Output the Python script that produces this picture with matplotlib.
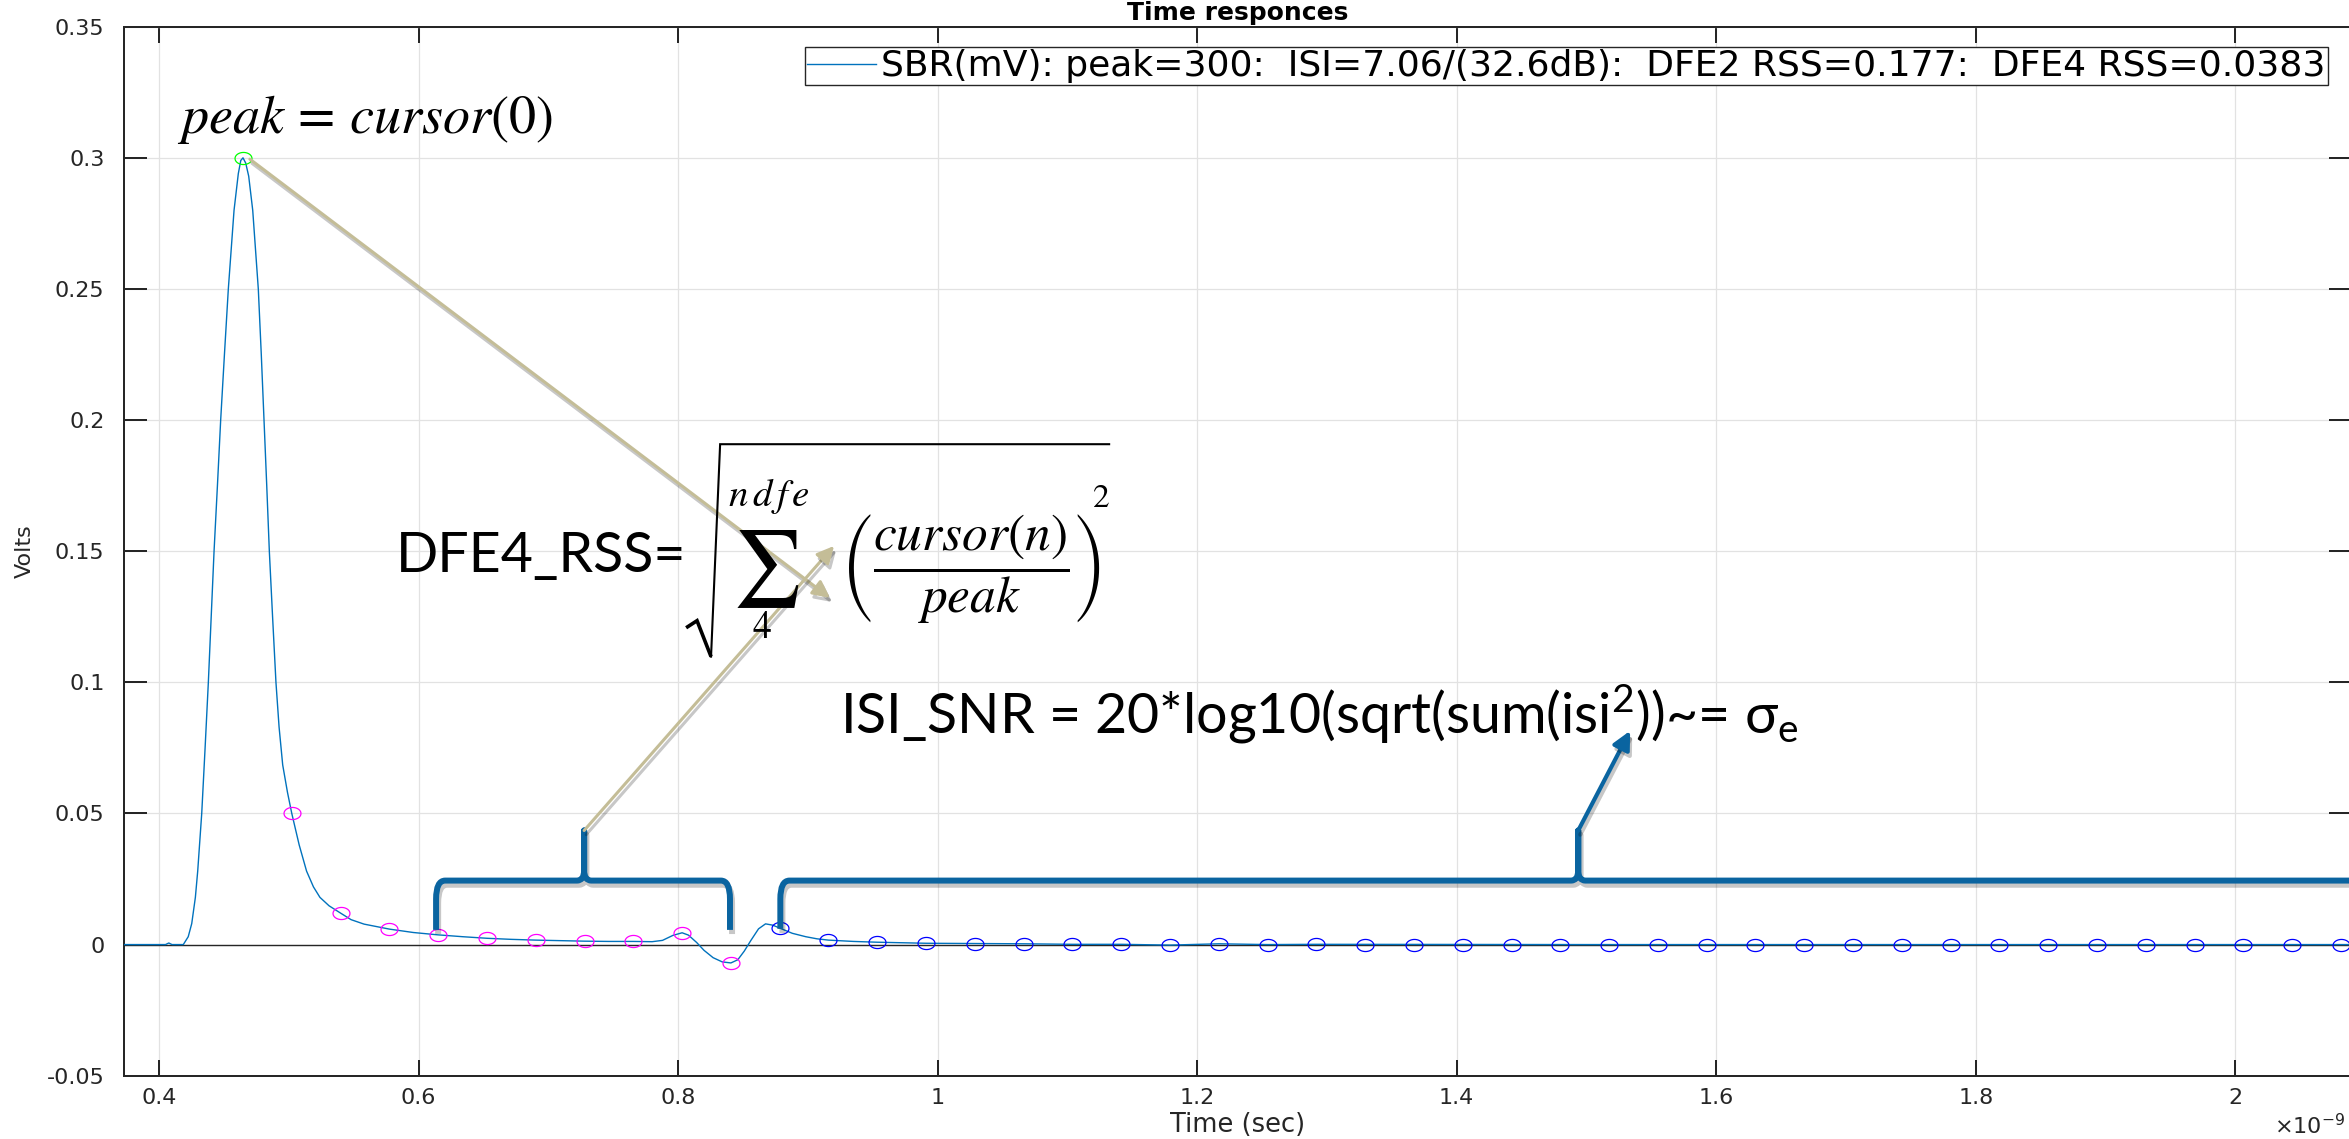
import matplotlib
matplotlib.use('Agg')
import matplotlib.pyplot as plt
import numpy as np
from matplotlib.path import Path
from matplotlib.patches import PathPatch, FancyArrowPatch
import matplotlib.patheffects as pe
from matplotlib.ticker import FormatStrFormatter

plt.rcParams['font.family'] = ['DejaVu Sans']

# single bit response, time in ns (axis shows x10^-9 s), volts
t_sbr = [0.373, 0.400, 0.405, 0.4075, 0.410, 0.4187, 0.4225, 0.4252, 0.4280, 0.4298,
         0.4329, 0.4355, 0.4380, 0.4402, 0.4424, 0.4450, 0.4475, 0.4504, 0.4534, 0.4578,
         0.4611, 0.4630, 0.4647, 0.4668, 0.4691, 0.4722, 0.4765, 0.4788, 0.4809, 0.4830,
         0.4850, 0.4875, 0.4901, 0.4925, 0.4953, 0.4990, 0.5023, 0.5080, 0.5137, 0.5190,
         0.5240, 0.5310, 0.5399, 0.5480, 0.5580, 0.5775, 0.5960, 0.6151, 0.6340, 0.6527,
         0.6710, 0.6903, 0.7090, 0.7279, 0.7465, 0.7655, 0.7800, 0.7880, 0.7960, 0.8031,
         0.8080, 0.8143, 0.8200, 0.8270, 0.8340, 0.8407, 0.8460, 0.8510, 0.8560, 0.8620,
         0.8674, 0.8730, 0.8783, 0.8880, 0.8984, 0.9070, 0.9159, 0.9350, 0.9535, 0.9911,
         1.0287, 1.0663, 1.1039, 1.1415, 1.1791, 1.2167, 1.2543, 1.2919, 1.5000, 1.8000,
         2.0815, 2.0900]
v_sbr = [0.0, 0.0, 0.0, 0.0006, 0.0, 0.0, 0.003, 0.008, 0.018, 0.028,
         0.050, 0.075, 0.100, 0.125, 0.150, 0.175, 0.200, 0.225, 0.250, 0.280,
         0.294, 0.299, 0.300, 0.298, 0.293, 0.280, 0.250, 0.225, 0.200, 0.175,
         0.150, 0.125, 0.100, 0.083, 0.0685, 0.058, 0.050, 0.038, 0.028, 0.022,
         0.018, 0.0148, 0.0120, 0.0095, 0.0078, 0.0059, 0.0046, 0.0037, 0.0030, 0.0024,
         0.0020, 0.0017, 0.0015, 0.0013, 0.0012, 0.0012, 0.0011, 0.0016, 0.0035, 0.0045,
         0.0036, 0.0008, -0.0022, -0.0050, -0.0066, -0.0070, -0.0058, -0.0025, 0.0015, 0.0060,
         0.0079, 0.0074, 0.0063, 0.0043, 0.0030, 0.0022, 0.0017, 0.0012, 0.0009, 0.0005,
         0.0004, 0.0003, 0.0001, 0.0001, -0.0002, 0.0003, 0.0, 0.0001, 0.0, 0.0,
         0.0, 0.0]

# cursor samples (one per UI)
t_cur = [0.4647, 0.5023, 0.5399, 0.5775, 0.6151, 0.6527, 0.6903, 0.7279, 0.7655, 0.8031,
         0.8407, 0.8783, 0.9159, 0.9535, 0.9911, 1.0287, 1.0663, 1.1039, 1.1415, 1.1791,
         1.2167, 1.2543, 1.2919, 1.3295, 1.3671, 1.4047, 1.4423, 1.4799, 1.5175, 1.5551,
         1.5927, 1.6303, 1.6679, 1.7055, 1.7431, 1.7807, 1.8183, 1.8559, 1.8935, 1.9311,
         1.9687, 2.0063, 2.0439, 2.0815]
v_cur = [0.300, 0.050, 0.0120, 0.0059, 0.0037, 0.0024, 0.0017, 0.0013, 0.0012, 0.0045,
         -0.0070, 0.0063, 0.0017, 0.0009, 0.0005, 0.0004, 0.0003, 0.0001, 0.0001, -0.0002,
         0.0003, 0.0, 0.0001, 0.0, 0.0, 0.0, 0.0, 0.0, 0.0, 0.0,
         0.0, 0.0, 0.0, 0.0, 0.0, 0.0, 0.0, 0.0, 0.0, 0.0,
         0.0, 0.0, 0.0, 0.0]

legend_label = 'SBR(mV): peak=300:  ISI=7.06/(32.6dB):  DFE2 RSS=0.177:  DFE4 RSS=0.0383'
x_ticks = [0.4, 0.6, 0.8, 1.0, 1.2, 1.4, 1.6, 1.8, 2.0]
y_ticks = [-0.05, 0, 0.05, 0.1, 0.15, 0.2, 0.25, 0.3, 0.35]

W, H = 2349, 1139
fig = plt.figure(figsize=(W / 100, H / 100), dpi=100)
ax = fig.add_axes([124 / W, 1 - 1075.7 / H, (2352 - 124) / W, (1075.7 - 26.7) / H])

dark = '#262626'
ax.set_xlim(0.373, 2.090)
ax.set_ylim(-0.05, 0.35)
ax.set_xticks(x_ticks)
ax.set_yticks(y_ticks)
ax.xaxis.set_major_formatter(FormatStrFormatter('%g'))
ax.yaxis.set_major_formatter(FormatStrFormatter('%g'))
ax.grid(True, color='#e2e2e2', lw=0.9)
ax.set_axisbelow(True)
ax.tick_params(direction='in', top=True, right=True, width=1.44, colors=dark, labelsize=16)
ax.tick_params(axis='x', length=11.5, pad=9)
ax.tick_params(axis='y', length=16.5, pad=14)
for s in ax.spines.values():
    s.set_linewidth(1.44)
    s.set_color(dark)

ax.axhline(0, color=dark, lw=1.0, zorder=2)
line, = ax.plot(t_sbr, v_sbr, color='#0072BD', lw=1.0, label=legend_label, zorder=3)

th = np.linspace(0, 2 * np.pi, 64)
ell = Path(np.column_stack([1.4 * np.cos(th), np.sin(th)]))
mk = dict(ls='none', marker=ell, ms=12.2, mfc='none', mew=0.9, zorder=4)
ax.plot(t_cur[:1], v_cur[:1], mec='#00ff00', **mk)
ax.plot(t_cur[1:11], v_cur[1:11], mec='#ff00ff', **mk)
ax.plot(t_cur[11:], v_cur[11:], mec='#0000ff', **mk)

ax.set_title('Time responces', fontsize=18, fontweight='bold', color='k', pad=5)
ax.set_ylabel('Volts', fontsize=16, color=dark)
ax.yaxis.set_label_coords(-0.040, 0.5)
ax.set_xlabel('Time (sec)', fontsize=18.5, color=dark)
ax.xaxis.set_label_coords(0.5, -0.035)
fig.text(2274 / W, 1 - 1138 / H, r'$\times$10$^{-9}$', fontsize=16, color=dark, va='bottom')

leg = ax.legend(handles=[line], loc='upper left', bbox_to_anchor=(805 / W, 1 - 47 / H),
                bbox_transform=fig.transFigure, fontsize=26, fancybox=False, framealpha=1,
                edgecolor=dark, borderpad=0.06, handlelength=1.9, handletextpad=0.15,
                borderaxespad=0)
leg.get_frame().set_linewidth(1.0)
leg.set_zorder(10)

# annotations
brace_c = '#0a64a0'
tan_c = '#c4bd97'
shadow = [pe.SimpleLineShadow(offset=(1.5, -3), shadow_color='k', alpha=0.22), pe.Normal()]


def brace(x0, xt, x1, yf, yb, yt):
    dx, dy, tx, ty = 0.007, 0.007, 0.0055, 0.004
    verts = [(x0, yf), (x0, yb - dy), (x0, yb), (x0 + dx, yb), (xt - tx, yb), (xt, yb),
             (xt, yb + ty), (xt, yt), (xt, yb + ty), (xt, yb), (xt + tx, yb), (x1 - dx, yb),
             (x1, yb), (x1, yb - dy), (x1, yf)]
    codes = [Path.MOVETO, Path.LINETO, Path.CURVE3, Path.CURVE3, Path.LINETO, Path.CURVE3,
             Path.CURVE3, Path.LINETO, Path.LINETO, Path.CURVE3, Path.CURVE3, Path.LINETO,
             Path.CURVE3, Path.CURVE3, Path.LINETO]
    p = PathPatch(Path(verts, codes), fill=False, ec=brace_c, lw=4.3, capstyle='butt',
                  joinstyle='round', zorder=5)
    p.set_path_effects(shadow)
    ax.add_patch(p)


brace(0.6135, 0.7276, 0.8400, 0.0056, 0.0244, 0.0435)
brace(0.8788, 1.4937, 2.3000, 0.0060, 0.0244, 0.0435)


def arrow(p0, p1, color, lw, ms):
    a = FancyArrowPatch(p0, p1, arrowstyle='-|>,head_length=0.6,head_width=0.3',
                        mutation_scale=ms, color=color, lw=lw, shrinkA=0, shrinkB=0, zorder=6)
    a.set_path_effects(shadow)
    ax.add_patch(a)


arrow((0.4700, 0.2995), (0.9171, 0.1322), tan_c, 2.2, 17)
arrow((0.7276, 0.0435), (0.9202, 0.1520), tan_c, 2.2, 17)
arrow((1.4937, 0.0435), (1.5337, 0.0815), brace_c, 3.0, 18)

ax.text(0.4139, 0.3096, r'$peak\,=\,cursor(0)$', math_fontfamily='stix', fontsize=39,
        va='baseline', ha='left', zorder=7)

# DFE4_RSS formula, built from pieces
ax.text(0.5827, 0.1421, 'DFE4_RSS=', family='Lato', fontsize=40, va='baseline', ha='left',
        zorder=7)
ax.plot([0.8062, 0.8146, 0.8254], [0.1208, 0.1235, 0.1098], color='k', lw=2.6,
        solid_joinstyle='miter', solid_capstyle='butt', zorder=7)
ax.plot([0.8254, 0.8324, 1.1322], [0.1098, 0.1908, 0.1908], color='k', lw=1.5,
        solid_joinstyle='miter', zorder=7)
ax.text(0.8678, 0.1431, r'$\sum$', math_fontfamily='stix', fontsize=55, ha='center',
        va='center', zorder=7)
ax.text(0.8700, 0.1712, r'$n\,d\,f\,e$', math_fontfamily='stix', fontsize=28, ha='center',
        va='center', zorder=7)
ax.text(0.8647, 0.1208, r'$\mathit{4}$', math_fontfamily='stix', fontsize=27, ha='center',
        va='center', zorder=7)
ax.text(0.9250, 0.1430, r'$\left(\dfrac{cursor(n)}{peak}\right)$', math_fontfamily='stix',
        fontsize=37, ha='left', va='center', zorder=7)
ax.text(1.1260, 0.1696, '2', family='STIXGeneral', fontsize=24,
        ha='center', va='center', zorder=7)

ax.text(0.9245, 0.0809, r'ISI_SNR = 20*log10(sqrt(sum(isi$^\mathregular{2}$))~= σ$_\mathregular{e}$',
        family='Lato', fontsize=40, va='baseline', ha='left', zorder=7)

fig.savefig('out.png', dpi=100)
